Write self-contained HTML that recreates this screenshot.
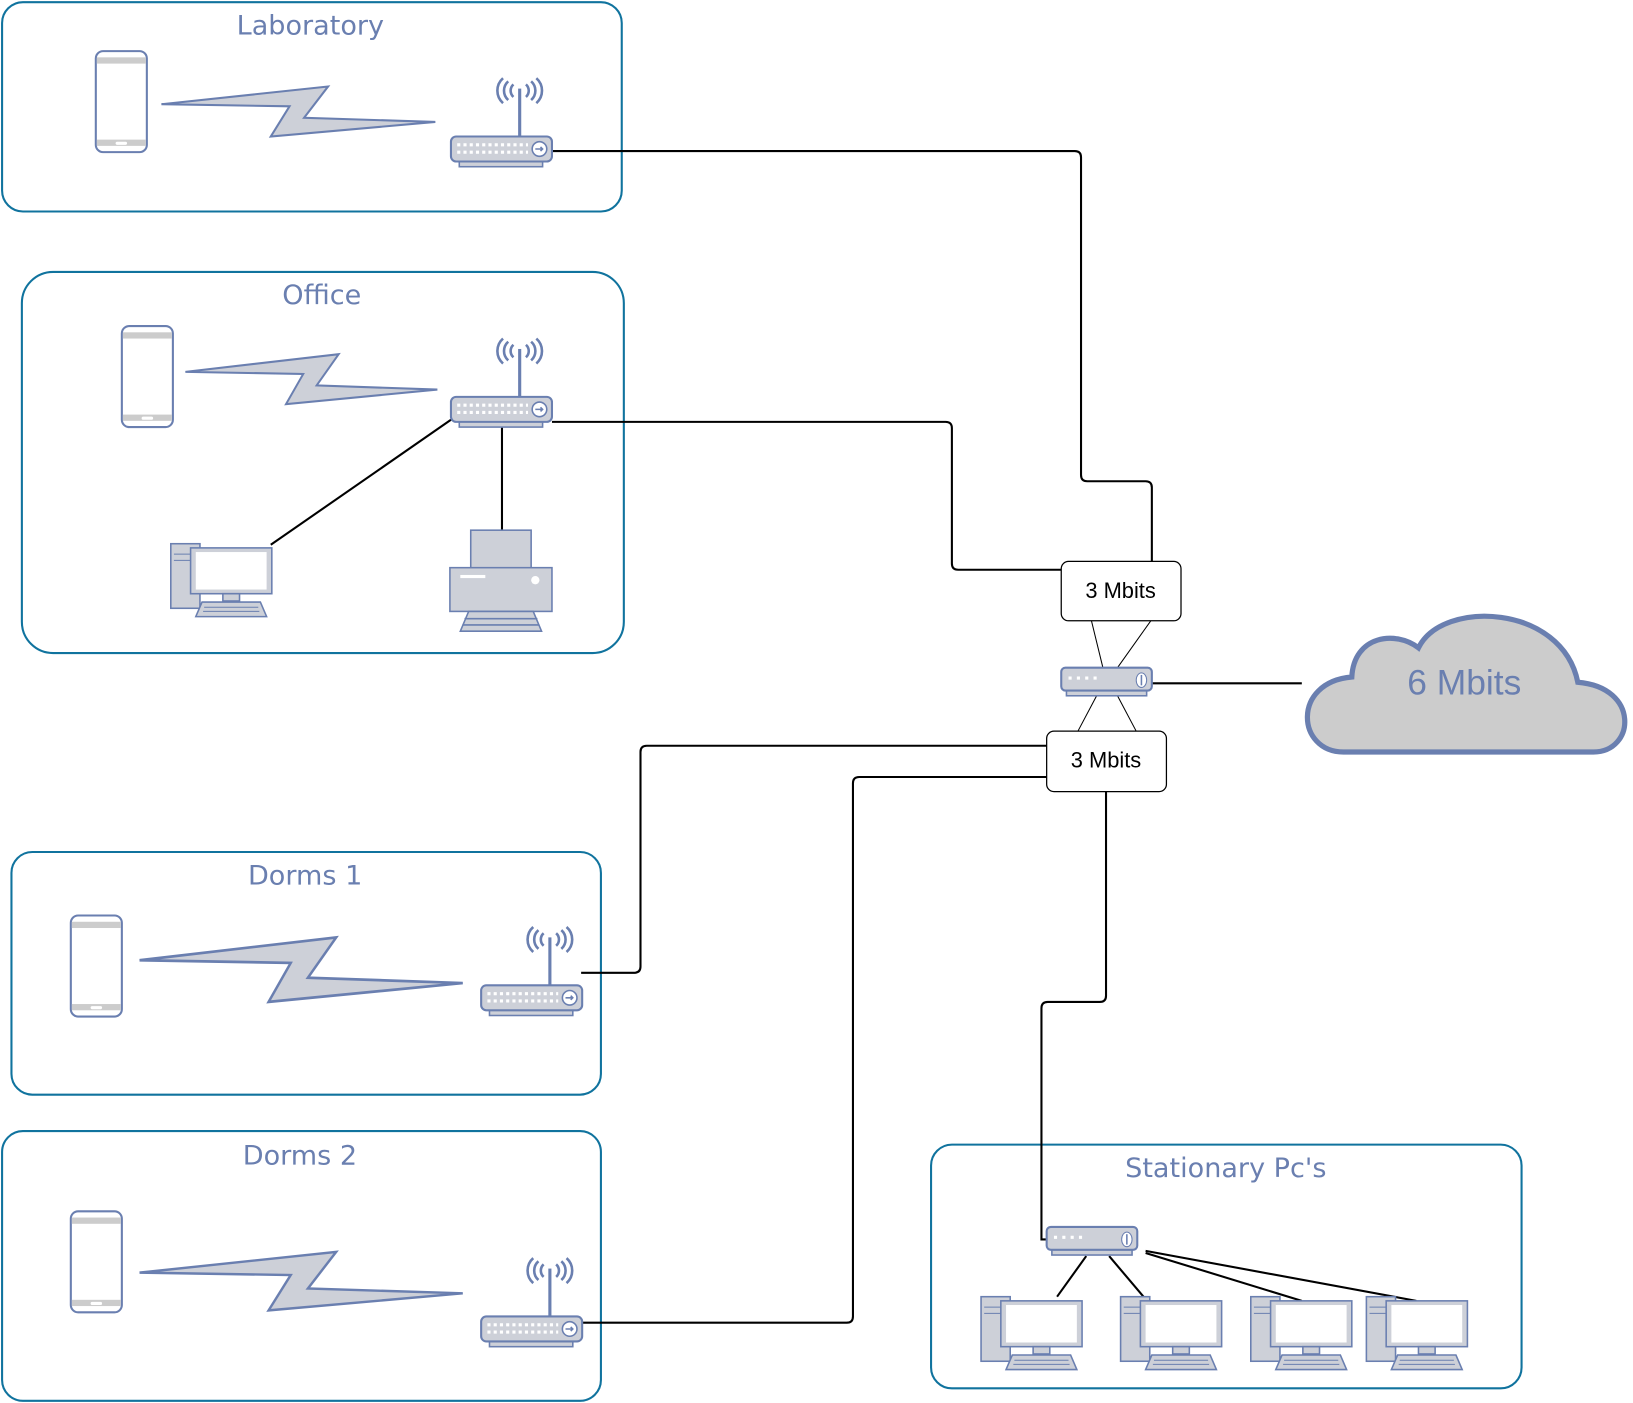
<!DOCTYPE html>
<html><head><meta charset="utf-8"><style>html,body{margin:0;padding:0;background:#fff}svg{display:block}</style></head>
<body>
<svg width="1633" height="1403" viewBox="0 0 1568 1347" xmlns="http://www.w3.org/2000/svg" font-family="'Liberation Sans', 'DejaVu Sans', sans-serif">
<defs>
<g id="phone">
<rect x="0" y="0" width="49" height="97" rx="7" fill="#fff" stroke="#6a7fb0" stroke-width="2"/>
<rect x="1" y="6" width="47" height="6" fill="#cccccc"/>
<rect x="1" y="85" width="47" height="6" fill="#cccccc"/>
<rect x="19" y="87" width="11" height="3" rx="1.5" fill="#fff"/>
</g>
<g id="wrouter">
<line x1="66" y1="0" x2="66" y2="-46" stroke="#6a7fb0" stroke-width="3"/>
<path d="M60,-50 a8,8 0 0 0 0,12 M55,-53 a12,12 0 0 0 0,18 M50,-56 a16,16 0 0 0 0,24 M72,-50 a8,8 0 0 1 0,12 M77,-53 a12,12 0 0 1 0,18 M82,-56 a16,16 0 0 1 0,24" fill="none" stroke="#6a7fb0" stroke-width="2.5"/>
<rect x="8" y="22" width="80" height="7" fill="#cdd0d8" stroke="#6a7fb0" stroke-width="1.5"/>
<rect x="0" y="0" width="97" height="24" rx="5" fill="#cdd0d8" stroke="#6a7fb0" stroke-width="2"/>
<path d="M6,8 h68 M6,15 h68" stroke="#fff" stroke-width="3" stroke-dasharray="3,3"/>
<circle cx="85" cy="12" r="7" fill="#fff" stroke="#6a7fb0" stroke-width="1.5"/>
<path d="M81,12 h7 M86,10 l2,2 l-2,2" stroke="#6a7fb0" stroke-width="1.5" fill="none"/>
</g>
<g id="switch">
<rect x="5" y="20" width="77" height="7" fill="#cdd0d8" stroke="#6a7fb0" stroke-width="1.5"/>
<rect x="0" y="0" width="87" height="22" rx="4" fill="#cdd0d8" stroke="#6a7fb0" stroke-width="2"/>
<path d="M7,10 h28" stroke="#fff" stroke-width="3" stroke-dasharray="3,5"/>
<ellipse cx="77" cy="12" rx="5" ry="7" fill="#fff" stroke="#6a7fb0" stroke-width="1"/>
<path d="M77,7 v10" stroke="#6a7fb0" stroke-width="1.5"/>
</g>
<g id="pc">
<rect x="0" y="0" width="28" height="62" fill="#cdd0d8" stroke="#6a7fb0" stroke-width="1.5"/>
<path d="M3,10 h20 M3,16 h20" stroke="#6a7fb0" stroke-width="1"/>
<rect x="19" y="4" width="78" height="44" fill="#cdd0d8" stroke="#6a7fb0" stroke-width="1.5"/>
<rect x="24" y="8" width="68" height="36" fill="#fff"/>
<rect x="50" y="48" width="16" height="7" fill="#cdd0d8" stroke="#6a7fb0" stroke-width="1.5"/>
<path d="M30,56 h56 l6,14 h-68 z" fill="#cdd0d8" stroke="#6a7fb0" stroke-width="1.5"/>
<path d="M32,61 h52 M31,65 h54" stroke="#6a7fb0" stroke-width="1"/>
</g>
<polygon id="bolt" points="0,17 160,0 137,30 263,34 105,48 123,19" fill="#cdd0d8" stroke="#6a7fb0" stroke-width="2"/>
</defs>

<g fill="none" stroke="#10739e" stroke-width="2">
<rect x="2" y="2" width="595" height="201" rx="20"/>
<rect x="21" y="261" width="578" height="366" rx="30"/>
<rect x="11" y="818" width="566" height="233" rx="20"/>
<rect x="2" y="1086" width="575" height="259" rx="20"/>
<rect x="894" y="1099" width="567" height="234" rx="20"/>
</g>
<g fill="#6a7fb0" font-size="26" text-anchor="middle" font-family="'DejaVu Sans', sans-serif">
<text x="298" y="33">Laboratory</text>
<text x="309" y="292">Office</text>
<text x="293" y="849">Dorms 1</text>
<text x="288" y="1118">Dorms 2</text>
<text x="1177" y="1130">Stationary Pc's</text>
</g>

<g fill="none" stroke="#000" stroke-width="2">
<path d="M530,145 H1032 q6,0 6,6 V456 q0,6 6,6 H1100 q6,0 6,6 V540"/>
<path d="M530,405 H908 q6,0 6,6 V541 q0,6 6,6 H1019"/>
<path d="M558,934 H609 q6,0 6,-6 V722 q0,-6 6,-6 H1005"/>
<path d="M558,1270 H813 q6,0 6,-6 V752 q0,-6 6,-6 H1005"/>
<path d="M1062,760 V956 q0,6 -6,6 H1006 q-6,0 -6,6 V1190 H1005"/>
<path d="M1106,656 H1250"/>
<path d="M433,403 L260,523 M482,410 V509"/>
<path d="M1043,1206 L1015,1245 M1065,1206 L1098,1245 M1100,1203 L1250,1249 M1100,1201 L1360,1249"/>
</g>
<g stroke="#000" stroke-width="1">
<path d="M1048,596 L1059,641 M1105,596 L1073,641 M1053,668 L1035,702 M1073,668 L1091,702"/>
</g>

<rect x="1019" y="539" width="115" height="57" rx="7" fill="#fff" stroke="#000" stroke-width="1.2"/>
<text x="1076" y="574" font-size="21" text-anchor="middle" fill="#000">3 Mbits</text>
<rect x="1005" y="702" width="115" height="58" rx="7" fill="#fff" stroke="#000" stroke-width="1.2"/>
<text x="1062" y="737" font-size="21" text-anchor="middle" fill="#000">3 Mbits</text>

<path d="M1290,722 C1245,722 1240,655 1298,650 C1300,610 1340,605 1362,622 C1385,575 1500,580 1515,655 C1575,660 1570,722 1530,722 Z" fill="#cccccc" stroke="#6a7fb0" stroke-width="5"/>
<text x="1406" y="667" font-size="34" text-anchor="middle" fill="#6a7fb0">6 Mbits</text>

<use href="#phone" x="92" y="49"/>
<use href="#phone" x="117" y="313"/>
<use href="#phone" x="68" y="879"/>
<use href="#phone" x="68" y="1163"/>
<use href="#bolt" transform="translate(155,83)"/>
<use href="#bolt" transform="translate(178,340) scale(0.92,1)"/>
<use href="#bolt" transform="translate(134,900) scale(1.18,1.29)"/>
<use href="#bolt" transform="translate(134,1202) scale(1.18,1.17)"/>
<use href="#wrouter" x="433" y="131"/>
<use href="#wrouter" x="433" y="381"/>
<use href="#wrouter" x="462" y="946"/>
<use href="#wrouter" x="462" y="1264"/>
<use href="#switch" x="1019" y="641"/>
<use href="#switch" x="1005" y="1178"/>
<use href="#pc" x="164" y="522"/>
<use href="#pc" x="942" y="1245"/>
<use href="#pc" x="1076" y="1245"/>
<use href="#pc" x="1201" y="1245"/>
<use href="#pc" x="1312" y="1245"/>

<g stroke="#6a7fb0" stroke-width="1.5" fill="#cdd0d8">
<rect x="452" y="509" width="58" height="38"/>
<rect x="432" y="545" width="98" height="42"/>
<path d="M450,587 h62 l8,19 h-78 z"/>
<path d="M446,594 h70 M444,600 h74" fill="none"/>
</g>
<rect x="442" y="552" width="24" height="3" fill="#fff"/>
<circle cx="514" cy="557" r="4" fill="#fff"/>
</svg>
</body></html>
